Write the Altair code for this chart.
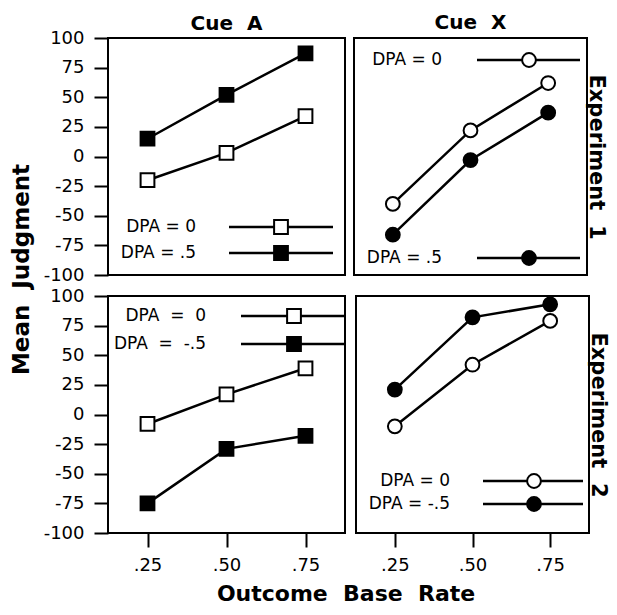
import altair as alt
import pandas as pd

FONT = "DejaVu Sans"
SP = "\u00a0"

x_vals = [0.25, 0.50, 0.75]
y_ticks = [-100, -75, -50, -25, 0, 25, 50, 75, 100]

# Experiment 1
e1_cueA_dpa0 = [-20, 3, 34]
e1_cueA_dpa5 = [15, 52, 87]
e1_cueX_dpa0 = [-40, 22, 62]
e1_cueX_dpa5 = [-66, -3, 37]
# Experiment 2
e2_cueA_dpa0 = [-8, 17, 39]
e2_cueA_dpam5 = [-75, -29, -18]
e2_cueX_dpa0 = [-10, 42, 79]
e2_cueX_dpam5 = [21, 82, 93]

labels_e1 = ["DPA = 0", "DPA = .5"]
labels_e2 = [f"DPA{SP} ={SP} 0", f"DPA{SP} ={SP} -.5"]
labels_e2x = ["DPA = 0", "DPA = -.5"]

WL, WR, H = 237, 233, 237


def panel(open_vals, filled_vals, shape, legend, show_x, show_y, width,
          title=None, title_offset=0, right_title=None):
    df = pd.DataFrame({
        "x": x_vals * 2,
        "y": open_vals + filled_vals,
        "series": ["open"] * 3 + ["filled"] * 3,
    })
    if show_x:
        x_axis = alt.Axis(values=x_vals, labelExpr="substring(format(datum.value, '.2f'), 1)",
                          tickSize=14, tickWidth=2, tickColor="black", domain=False,
                          labelFontSize=18, labelFont=FONT, labelColor="black",
                          labelPadding=9, title=None, grid=False)
    else:
        x_axis = None
    if show_y:
        y_axis = alt.Axis(values=y_ticks, labelExpr="'' + datum.value",
                          tickSize=14, tickWidth=2, tickColor="black",
                          domain=False, labelFontSize=18, labelFont=FONT,
                          labelColor="black", labelPadding=10, title=None, grid=False)
    elif right_title:
        y_axis = alt.Axis(orient="right", labels=False, ticks=False, domain=False,
                          grid=False, title=right_title, titleFontSize=21,
                          titleFont=FONT, titleFontWeight="bold", titleColor="black",
                          titleAngle=90, titlePadding=-2)
    else:
        y_axis = None
    x = alt.X("x:Q", scale=alt.Scale(domain=[0.125, 0.875], nice=False, zero=False), axis=x_axis)
    y = alt.Y("y:Q", scale=alt.Scale(domain=[-100, 100], nice=False, zero=False), axis=y_axis)
    base = alt.Chart(df)
    line = base.mark_line(color="black", strokeWidth=2.5).encode(x=x, y=y, detail="series:N")
    pts = base.mark_point(shape=shape, size=190, filled=True, stroke="black",
                          strokeWidth=2, opacity=1).encode(
        x=x, y=y,
        fill=alt.Fill("series:N", scale=alt.Scale(domain=["open", "filled"],
                                                  range=["white", "black"]), legend=None))
    layers = [line, pts]
    for (lab, fill, tx, ty, x1, x2, mx) in legend:
        ldf = pd.DataFrame({"label": [lab]})
        lc = alt.Chart(ldf)
        layers.append(lc.mark_text(align="right", baseline="middle", fontSize=17,
                                   font=FONT, color="black").encode(
            text="label:N", x=alt.value(tx), y=alt.value(ty)))
        layers.append(lc.mark_rule(color="black", strokeWidth=2.5).encode(
            x=alt.value(x1), x2=alt.value(x2), y=alt.value(ty)))
        layers.append(lc.mark_point(shape=shape, size=190, filled=True, stroke="black",
                                    strokeWidth=2, opacity=1).encode(
            x=alt.value(mx), y=alt.value(ty), fill=alt.value(fill)))
    ch = alt.layer(*layers).properties(width=width, height=H)
    if title:
        ch = ch.properties(title=alt.TitleParams(title, fontSize=20, fontWeight="bold",
                                                 font=FONT, color="black",
                                                 offset=title_offset))
    return ch


tl = panel(e1_cueA_dpa0, e1_cueA_dpa5, "square",
           [(labels_e1[0], "white", 88, 189, 121, 225, 173),
            (labels_e1[1], "black", 88, 215, 121, 225, 173)],
           show_x=False, show_y=True, width=WL, title=f"Cue{SP}{SP}A", title_offset=-5)
tr = panel(e1_cueX_dpa0, e1_cueX_dpa5, "circle",
           [(labels_e1[0], "white", 88, 22, 123, 226, 175),
            (labels_e1[1], "black", 88, 220, 123, 226, 175)],
           show_x=False, show_y=False, width=WR, title=f"Cue{SP}{SP}X", title_offset=5,
           right_title=f"Experiment{SP}{SP}1")
bl = panel(e2_cueA_dpa0, e2_cueA_dpam5, "square",
           [(labels_e2[0], "white", 98, 20, 133, WL, 186),
            (labels_e2[1], "black", 98, 48, 133, WL, 186)],
           show_x=True, show_y=True, width=WL)
br = panel(e2_cueX_dpa0, e2_cueX_dpam5, "circle",
           [(labels_e2x[0], "white", 94, 185, 127, 227, 178),
            (labels_e2x[1], "black", 94, 208, 127, 227, 178)],
           show_x=True, show_y=False, width=WR, right_title=f"Experiment{SP}{SP}2")

row1 = alt.hconcat(tl, tr, spacing=7)
row2 = alt.hconcat(bl, br, spacing=7)
inner = alt.vconcat(row1, row2, spacing=1).properties(
    title=alt.TitleParams(f"Mean{SP}{SP}Judgment", orient="left", anchor="middle",
                          fontSize=23, fontWeight="bold", font=FONT, color="black",
                          offset=8, dx=24))
chart = alt.vconcat(inner).properties(
    title=alt.TitleParams(f"Outcome{SP}{SP}Base{SP}{SP}Rate", orient="bottom",
                          anchor="middle", fontSize=22, fontWeight="bold", font=FONT,
                          color="black", offset=9, dx=36),
    padding={"left": 3, "top": 4, "right": 0, "bottom": 0},
).configure_view(stroke="black", strokeWidth=2).configure_axis(grid=False)

chart.save("out.html", embed_options={"renderer": "svg", "actions": False})
